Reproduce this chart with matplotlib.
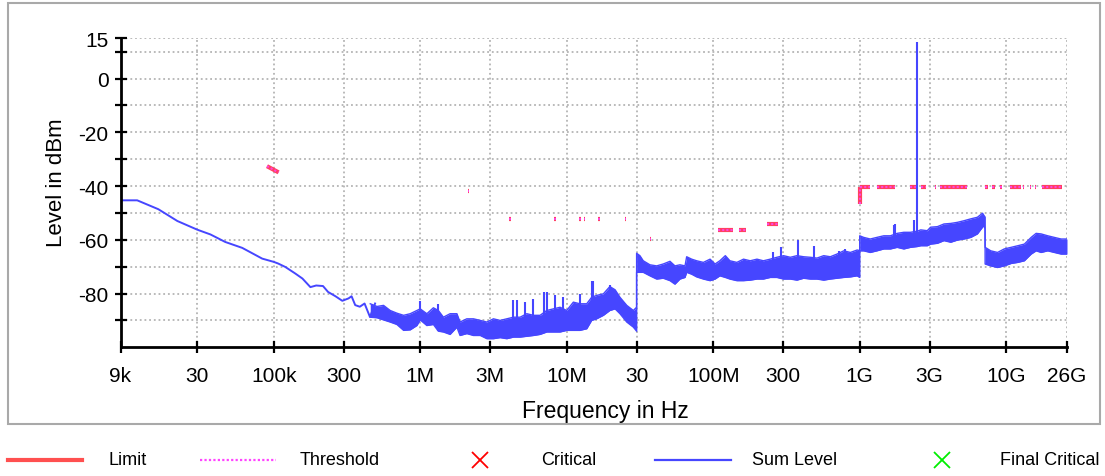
import numpy as np
import matplotlib
matplotlib.use("Agg")
import matplotlib.pyplot as plt
from matplotlib.lines import Line2D
from matplotlib.patches import Rectangle

SANS = ["Liberation Sans", "DejaVu Sans"]
BLUE = "#4646ff"

# smooth part of the sum level (Hz, dBm)
smooth_f = [9e3, 11.7e3, 16.3e3, 22e3, 30e3, 37e3, 46.7e3, 61e3, 83.5e3, 100e3,
            107e3, 120e3, 140e3, 157e3, 178e3, 195e3, 217e3, 235e3, 264e3, 294e3,
            324e3, 340e3, 360e3, 387e3, 417e3, 454e3, 492e3]
smooth_lvl = [-45.3, -45.3, -48.6, -53.0, -56.2, -58.0, -60.8, -63.0, -67.0, -68.2,
              -68.8, -70.1, -72.5, -74.4, -77.6, -77.0, -77.2, -79.4, -81.0, -82.7,
              -81.8, -81.0, -84.3, -84.9, -83.7, -88.7, -83.7]

# noisy band of the sum level: frequency, upper and lower edge
band_f = [456e3, 507e3, 562e3, 624e3, 693e3, 770e3, 855e3, 949e3, 1.0e6, 1.11e6,
          1.23e6, 1.33e6, 1.44e6, 1.60e6, 1.78e6, 1.87e6, 2.08e6, 2.31e6, 2.57e6, 2.85e6,
          3.16e6, 3.51e6, 3.90e6, 4.33e6, 4.81e6, 5.34e6, 5.93e6, 6.58e6, 7.31e6, 8.11e6,
          9.01e6, 10.0e6, 11.1e6, 12.3e6, 13.7e6, 14.8e6, 16.0e6, 17.8e6, 19.7e6, 21.4e6,
          23.1e6, 25.7e6, 28.5e6, 30.0e6,
          30.0e6, 31.6e6, 33.3e6, 37.0e6, 41.1e6, 45.6e6, 50.7e6, 54.8e6, 59.3e6, 64.2e6,
          65.9e6, 71.3e6, 77.1e6, 85.7e6, 95.2e6, 103e6, 111e6, 121e6, 130e6, 145e6,
          161e6, 179e6, 199e6, 220e6, 245e6, 272e6, 302e6, 336e6, 373e6, 414e6,
          460e6, 511e6, 568e6, 630e6, 700e6, 778e6, 864e6, 960e6, 1.0e9,
          1.0e9, 1.065e9, 1.18e9, 1.31e9, 1.46e9, 1.62e9, 1.80e9, 2.0e9, 2.22e9, 2.47e9,
          2.61e9, 2.89e9, 3.05e9, 3.39e9, 3.76e9, 4.18e9, 4.64e9, 5.15e9, 5.73e9, 6.36e9,
          6.89e9, 7.06e9, 7.17e9,
          7.18e9, 7.85e9, 8.73e9, 9.69e9, 10.8e9, 12.0e9, 13.3e9, 14.8e9, 16.0e9, 17.3e9,
          19.2e9, 21.3e9, 23.7e9, 26.0e9]
band_top = [-83.8, -84.8, -84.4, -86.3, -87.3, -88.1, -87.5, -86.3, -85.7, -87.5,
            -85.3, -86.3, -88.8, -87.5, -87.5, -90.6, -89.4, -89.4, -90.0, -90.6,
            -89.4, -90.0, -89.4, -88.8, -88.8, -87.5, -88.1, -88.1, -86.3, -85.7,
            -85.1, -86.3, -83.2, -83.8, -83.8, -81.4, -80.7, -80.1, -77.4, -78.6,
            -81.4, -84.4, -86.3, -85.1,
            -65.0, -65.9, -67.8, -69.3, -69.7, -69.0, -68.0, -69.7, -69.3, -69.7,
            -66.3, -67.2, -67.8, -68.4, -67.2, -69.0, -67.8, -65.9, -67.8, -68.4,
            -67.2, -67.8, -67.2, -67.8, -67.2, -66.5, -65.9, -66.5, -65.9, -66.3,
            -66.5, -66.8, -65.9, -66.3, -65.3, -64.1, -64.7, -63.8, -64.0,
            -58.5, -59.1, -59.7, -59.1, -58.5, -58.5, -57.6, -57.2, -57.2, -56.8,
            -56.3, -56.6, -55.3, -55.1, -54.1, -53.9, -53.5, -52.9, -52.2, -51.6,
            -50.1, -51.0, -51.5,
            -62.8, -64.1, -64.7, -63.4, -62.8, -62.2, -61.6, -59.1, -57.6, -57.8,
            -58.5, -59.1, -59.7, -59.7]
band_bot = [-88.8, -89.0, -89.8, -90.6, -91.5, -93.7, -93.5, -91.9, -89.8, -91.9,
            -91.5, -94.0, -94.3, -95.2, -92.5, -95.6, -94.9, -95.6, -95.6, -96.8,
            -96.8, -96.4, -96.8, -96.2, -96.2, -95.9, -95.6, -95.2, -94.3, -94.3,
            -94.3, -93.7, -93.7, -93.7, -93.1, -90.0, -89.4, -88.1, -86.3, -85.7,
            -87.5, -90.6, -92.5, -94.0,
            -72.1, -72.1, -72.1, -73.4, -74.6, -74.3, -75.2, -76.5, -74.6, -74.0,
            -72.1, -72.8, -73.8, -74.6, -75.2, -74.6, -73.4, -74.0, -74.6, -75.2,
            -75.2, -75.0, -74.6, -74.6, -74.0, -74.0, -74.6, -74.6, -75.0, -74.3,
            -74.6, -74.6, -75.0, -74.6, -74.3, -74.0, -73.8, -73.4, -74.0,
            -64.1, -64.1, -64.7, -64.1, -63.4, -63.4, -62.8, -63.4, -62.8, -62.5,
            -62.2, -62.2, -61.6, -61.3, -60.3, -60.9, -60.1, -59.7, -59.1, -57.8,
            -55.3, -54.7, -56.0,
            -69.0, -69.7, -70.3, -69.7, -68.8, -68.4, -67.8, -65.3, -64.1, -64.7,
            -64.1, -64.7, -65.3, -65.3]

# single spikes above the band
spike_f = [1.0e6, 1.33e6, 4.33e6, 4.6e6, 5.2e6, 5.93e6, 7.0e6, 7.31e6, 8.3e6, 9.5e6,
           12.3e6, 14.8e6, 15.1e6, 19.7e6,
           255e6, 290e6, 379e6, 485e6, 718e6, 789e6,
           1.71e9, 1.75e9, 2.34e9, 2.48e9]
spike_lvl = [-82.8, -84.0, -82.3, -82.5, -83.2, -82.0, -79.4, -79.5, -80.7, -81.4,
             -80.1, -75.4, -75.3, -76.7,
             -64.7, -62.8, -60.1, -62.2, -64.3, -63.6,
             -54.4, -54.2, -52.7, 13.5]

# limit line pieces: start/end frequency and level
lim_f1 = [90e3, 497e3, 2.12e6, 4.04e6, 4.13e6, 6.15e6, 8.2e6, 12.1e6, 13.2e6, 16.3e6,
          25.0e6, 37.3e6, 73.5e6, 107e6, 149e6, 234e6, 318e6, 395e6, 596e6,
          1.0e9, 1.0e9, 1.31e9, 2.19e9, 2.63e9, 3.25e9, 3.55e9, 7.18e9, 7.99e9, 9.1e9,
          10.6e9, 13.0e9, 14.5e9, 15.7e9, 17.5e9]
lim_f2 = [108e3, 503e3, 2.16e6, 4.08e6, 4.17e6, 6.2e6, 8.45e6, 12.5e6, 13.4e6, 16.8e6,
          25.3e6, 37.8e6, 74.2e6, 136e6, 167e6, 278e6, 321e6, 398e6, 600e6,
          1.0e9, 1.18e9, 1.75e9, 2.44e9, 2.85e9, 3.32e9, 5.39e9, 7.53e9, 8.45e9, 9.35e9,
          12.6e9, 13.2e9, 14.7e9, 15.9e9, 23.9e9]
lim_l1 = [-32.6, -47.9, -42.0, -52.3, -52.3, -52.3, -52.3, -52.3, -52.3, -52.3,
          -52.3, -59.8, -59.8, -56.2, -56.2, -54.2, -54.2, -54.2, -54.2,
          -46.5, -40.5, -40.5, -40.5, -40.5, -40.5, -40.5, -40.5, -40.5, -40.5,
          -40.5, -40.5, -40.5, -40.5, -40.5]
lim_l2 = [-34.9, -47.9, -42.0, -52.3, -52.3, -52.3, -52.3, -52.3, -52.3, -52.3,
          -52.3, -59.8, -59.8, -56.2, -56.2, -54.2, -54.2, -54.2, -54.2,
          -40.5, -40.5, -40.5, -40.5, -40.5, -40.5, -40.5, -40.5, -40.5, -40.5,
          -40.5, -40.5, -40.5, -40.5, -40.5]

x_ticks = [9e3, 3e4, 1e5, 3e5, 1e6, 3e6, 1e7, 3e7, 1e8, 3e8, 1e9, 3e9, 1e10, 2.6e10]
x_labels = ["9k", "30", "100k", "300", "1M", "3M", "10M", "30", "100M", "300",
            "1G", "3G", "10G", "26G"]
y_ticks = [15, 10, 0, -10, -20, -30, -40, -50, -60, -70, -80, -90]
y_labels = ["15", "", "0", "", "-20", "", "-40", "", "-60", "", "-80", ""]

W, H = 1105, 477
fig = plt.figure(figsize=(W / 100, H / 100), dpi=100)
fig.patches.append(Rectangle((8 / W, 1 - 425 / H), 1092 / W, 421 / H,
                             transform=fig.transFigure, fill=False,
                             edgecolor="#a9a9a9", lw=1.5))

ax = fig.add_axes([120.5 / W, 1 - 348.3 / H, 946.5 / W, 309 / H])
ax.set_xscale("log")
ax.set_xlim(9e3, 26e9)
ax.set_ylim(-100, 15)

ax.grid(True, which="major", color="#b4b4b4", ls=(0, (1, 1.6)), lw=1.3)
ax.set_axisbelow(True)
for s in ["top", "right"]:
    ax.spines[s].set_visible(False)
for s in ["left", "bottom"]:
    ax.spines[s].set_linewidth(2)

ax.set_xticks(x_ticks)
ax.set_xticklabels(x_labels, family=SANS, fontsize=15)
ax.set_yticks(y_ticks)
ax.set_yticklabels(y_labels, family=SANS, fontsize=15)
ax.minorticks_off()
ax.tick_params(axis="x", direction="inout", length=9, width=1.6, pad=9)
ax.tick_params(axis="y", direction="inout", length=9, width=1.6, pad=4)

# sum level
ax.plot(smooth_f, smooth_lvl, color=BLUE, lw=1.4)
ax.fill_between(band_f, band_bot, band_top, color=BLUE, lw=0)
ax.plot(band_f, band_top, color=BLUE, lw=1.0)
ax.plot(band_f, band_bot, color=BLUE, lw=1.0)
spike_base = np.interp(np.log10(spike_f), np.log10(band_f), band_bot)
ax.vlines(spike_f, spike_base, spike_lvl, color=BLUE, lw=1.5)

# limit / threshold pieces
for f1, f2, l1, l2 in zip(lim_f1, lim_f2, lim_l1, lim_l2):
    ax.plot([f1, f2], [l1, l2], color="#ff4060", lw=3, solid_capstyle="butt")
    ax.plot([f1, f2], [l1, l2], color="#ff44dd", lw=1.5, ls=(0, (1, 1)))

ax.set_ylabel("Level in dBm", family=SANS, fontsize=16)
ax.yaxis.set_label_coords(-0.057, 0.535)
ax.set_xlabel("Frequency in Hz", family=SANS, fontsize=16.5)
ax.xaxis.set_label_coords(0.512, -0.168)

# legend below the frame
ly = 1 - 461 / H
fig.add_artist(Line2D([8 / W, 82 / W], [ly, ly], transform=fig.transFigure,
                      color="#ff5050", lw=3))
fig.add_artist(Line2D([200 / W, 276 / W], [ly, ly], transform=fig.transFigure,
                      color="#ff44ff", lw=1.6, ls=(0, (1, 1))))
fig.add_artist(Line2D([480 / W], [ly], transform=fig.transFigure, color="#ff0000",
                      marker="x", ms=11, mew=1.3, ls="none"))
fig.add_artist(Line2D([655 / W, 731 / W], [ly, ly], transform=fig.transFigure,
                      color=BLUE, lw=1.6))
fig.add_artist(Line2D([942 / W], [ly], transform=fig.transFigure, color="#00ee00",
                      marker="x", ms=11, mew=1.3, ls="none"))
for x, t in [(108, "Limit"), (300, "Threshold"), (541, "Critical"),
             (752, "Sum Level"), (1000, "Final Critical")]:
    fig.text(x / W, ly, t, family=SANS, fontsize=13, va="center", ha="left")

fig.savefig("out.png", dpi=100)
